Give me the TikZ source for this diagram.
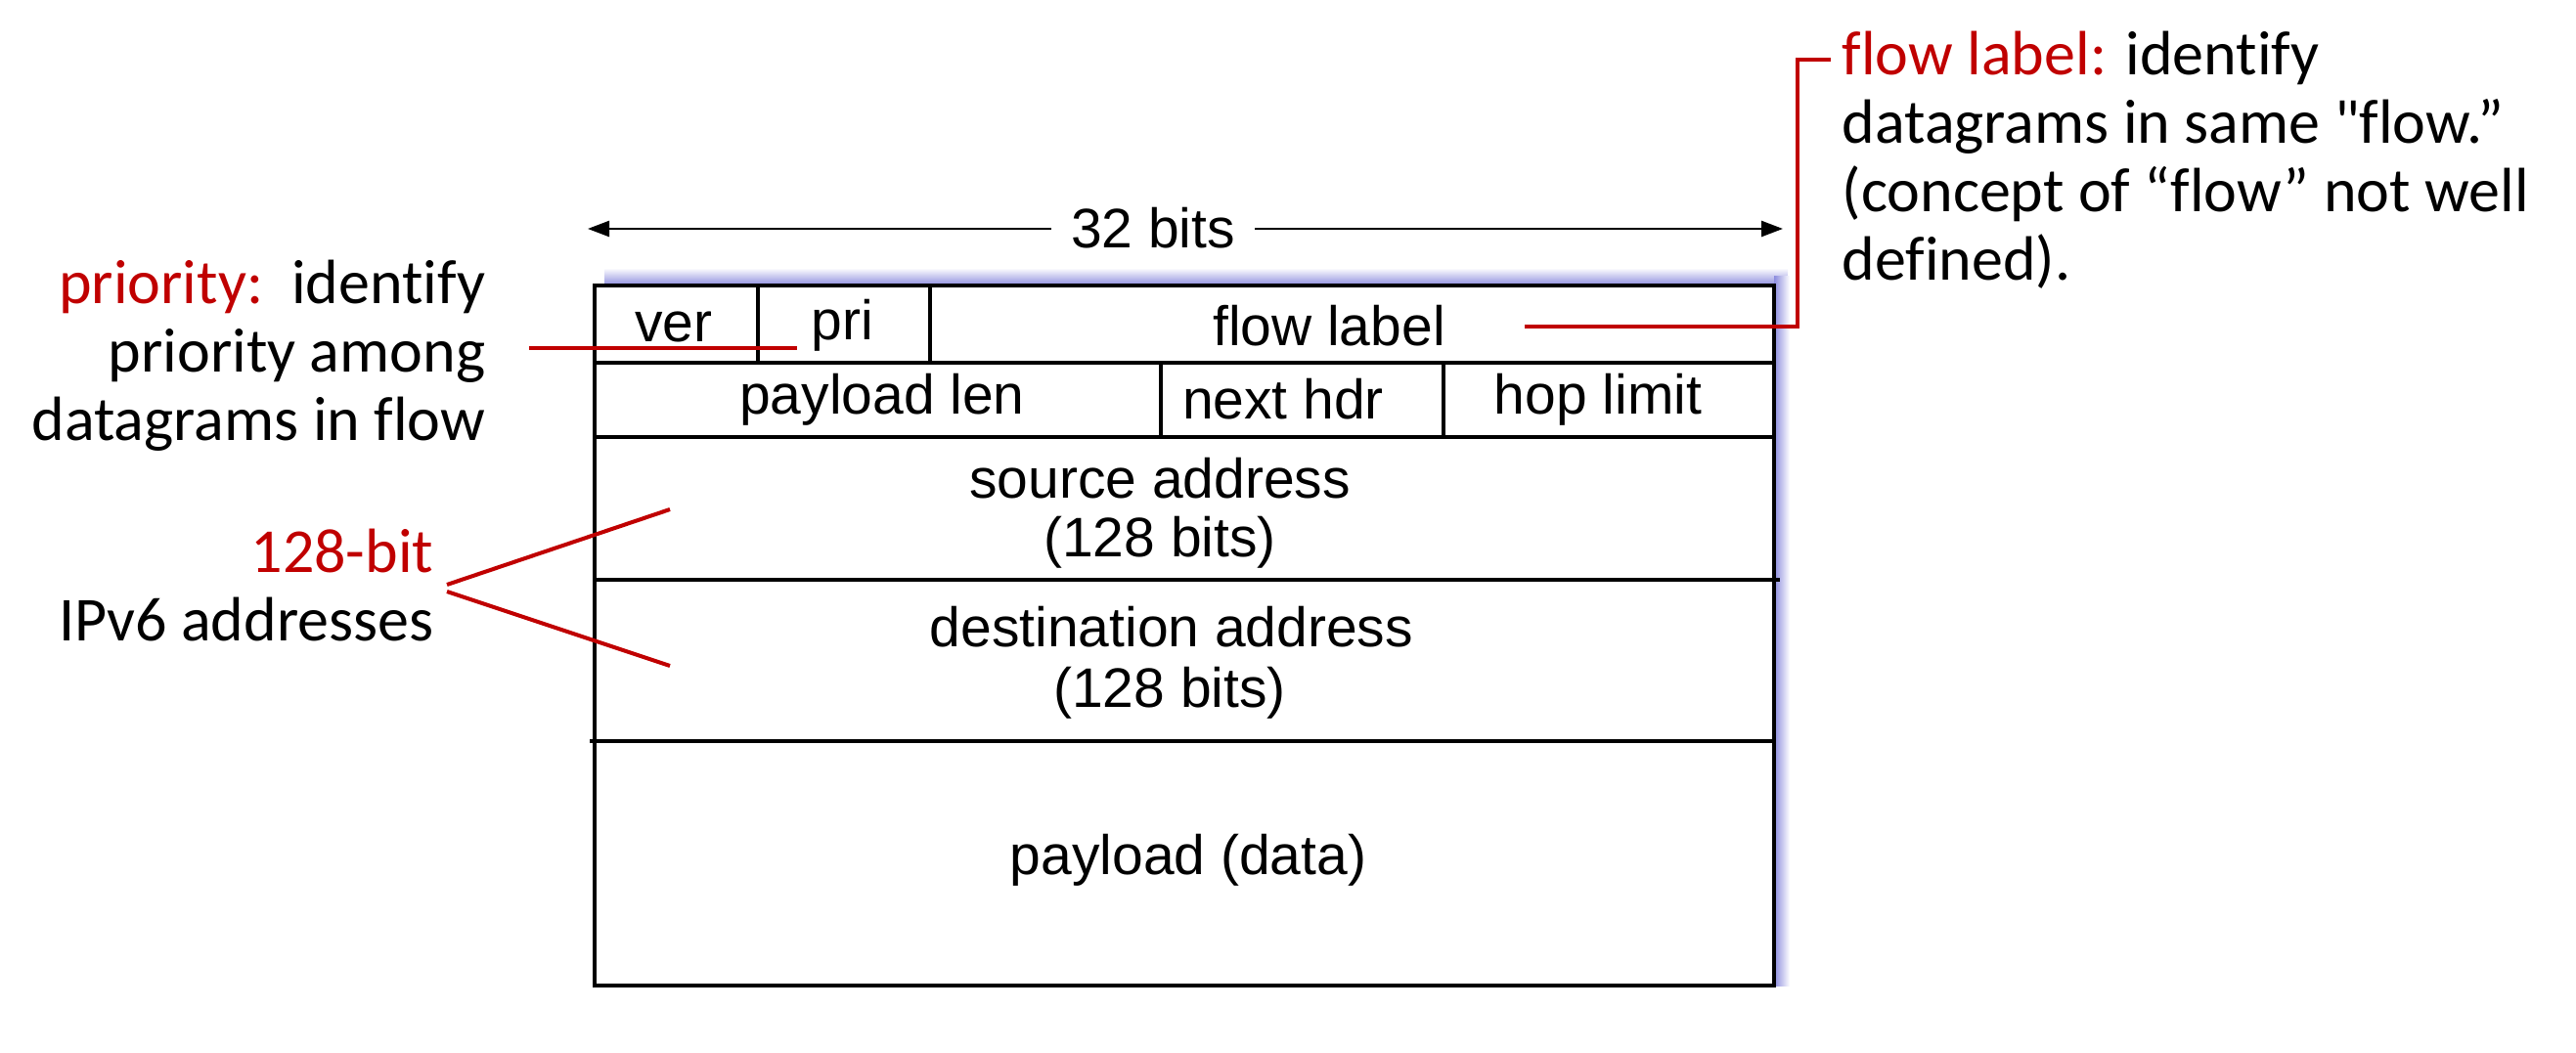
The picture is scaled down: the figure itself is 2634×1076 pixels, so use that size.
\documentclass[tikz,border=0pt]{standalone}
\usepackage{fontspec}
\setmainfont{Liberation Sans}
\newfontfamily\notefont[Ligatures={NoCommon}]{Carlito}
\usetikzlibrary{arrows.meta}
\definecolor{annot}{HTML}{C00000}
\definecolor{glow}{RGB}{140,140,222}

\begin{document}
\begin{tikzpicture}[x=0.01cm,y=-0.01cm,
  field/.style={font=\fontsize{16.2pt}{19pt}\selectfont, anchor=base, inner sep=0pt},
  note/.style={font=\notefont\fontsize{18.2pt}{19.9pt}\selectfont, inner sep=0pt},
  frame/.style={line width=1.15pt},
  pointer/.style={annot, line width=1.15pt},
  span/.style={line width=0.7pt, {Triangle[length=0.22cm,width=0.16cm]}-{Triangle[length=0.22cm,width=0.16cm]}},
]
\useasboundingbox (0,0) rectangle (2634,1076);

% soft glow along the top and right edges of the header box
\shade[top color=white, bottom color=glow] (618,274) rectangle (1828,292);
\shade[left color=glow, right color=white] (1814,282) rectangle (1830,1008);

% header box and field separators
\draw[frame] (608,292) rectangle (1814,1008);
\draw[frame] (608,371) -- (1814,371);
\draw[frame] (608,447) -- (1814,447);
\draw[frame] (608,593) -- (1820,593);
\draw[frame] (603,758) -- (1814,758);
\draw[frame] (775,292) -- (775,371);
\draw[frame] (951,292) -- (951,371);
\draw[frame] (1187,371) -- (1187,447);
\draw[frame] (1476,371) -- (1476,447);

% field names
\node[field] (ver) at (689,349) {ver};
\node[field] (pri) at (861,347) {pri};
\node[field] (flow) at (1359,353) {flow label};
\node[field] (plen) at (902,423) {payload len};
\node[field] (nhdr) at (1312,428) {next hdr};
\node[field] (hop) at (1634,423) {hop limit};
\node[field] (src) at (1186,509) {source address};
\node[field] (srcbits) at (1186,569) {(128 bits)};
\node[field] (dst) at (1198,661) {destination address};
\node[field] (dstbits) at (1196,723) {(128 bits)};
\node[field] (data) at (1215,894) {payload (data)};

% word width
\coordinate (wl) at (601,234);
\coordinate (wr) at (1823,234);
\draw[span] (wl) -- (wr);
\node[field, fill=white, inner xsep=0.2cm] (width) at (1179,253) {32 bits};

% annotations (anchored at the baseline of their last line)
\node[note, anchor=base east, align=right] (prio) at (497,450)
  {\textcolor{annot}{priority:}\ \ identify\\priority among\\datagrams in flow};
\node[note, anchor=base east, align=right] (addr) at (444,655)
  {\textcolor{annot}{128-bit}\\IPv6 addresses};
\node[note, anchor=base west, align=left] (flownote) at (1883,286)
  {\textcolor{annot}{flow label:} identify\\datagrams in same "flow.”\\(concept of “flow” not well\\defined).};

% annotation pointers
\coordinate (prioA) at (541,356);
\coordinate (prioB) at (815,356);
\draw[pointer] (prioA) -- (prioB);

\coordinate (apexU) at (457,598);
\coordinate (apexL) at (457,605);
\coordinate (srcTip) at (685,521);
\coordinate (dstTip) at (685,681);
\draw[pointer] (apexU) -- (srcTip);
\draw[pointer] (apexL) -- (dstTip);

\coordinate (flowA) at (1559,334);
\coordinate (flowB) at (1872,61);
\draw[pointer] (flowA) -- (1838,334) -- (1838,61) -- (flowB);
\end{tikzpicture}
\end{document}
